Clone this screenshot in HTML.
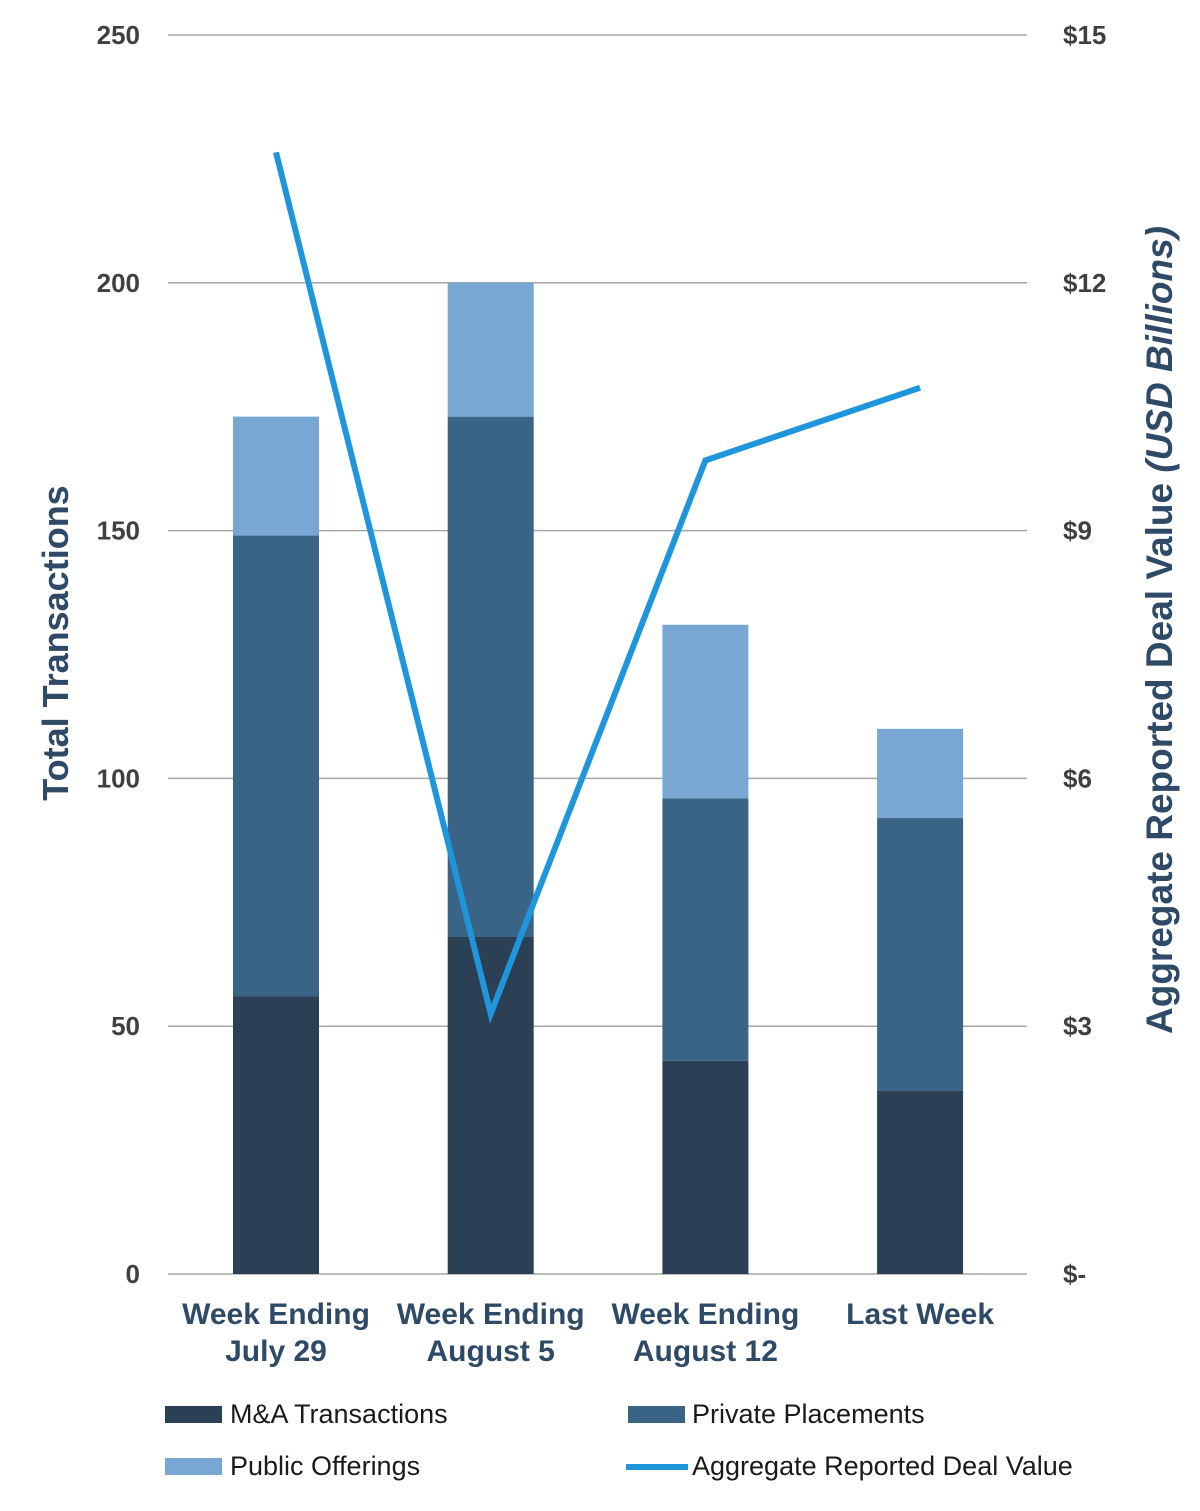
<!DOCTYPE html>
<html><head><meta charset="utf-8"><style>
html,body{margin:0;padding:0;background:#fff;}
svg{display:block;font-family:"Liberation Sans",sans-serif;}
</style></head><body>
<svg id="chart" width="1200" height="1511" viewBox="0 0 1200 1511">
<g id="grid"></g>
<g id="bars"></g>
<g id="line"></g>
<g id="ticks"></g>
<text transform="translate(68,643) rotate(-90)" text-anchor="middle" font-size="36" font-weight="600" fill="#2e4a66">Total Transactions</text>
<text transform="translate(1172,630) rotate(-90)" text-anchor="middle" font-size="37" font-weight="600" fill="#2e4a66">Aggregate Reported Deal Value  <tspan font-style="italic">(USD Billions)</tspan></text>
<g font-size="27" fill="#1a1a1a">
<rect x="165" y="1406" width="57" height="17" fill="#2b3f55"/>
<text x="230" y="1423">M&amp;A Transactions</text>
<rect x="628" y="1406" width="57" height="17" fill="#3a6486"/>
<text x="692" y="1423">Private Placements</text>
<rect x="165" y="1458" width="57" height="17" fill="#78a7d3"/>
<text x="230" y="1475">Public Offerings</text>
<line x1="626" y1="1467" x2="688" y2="1467" stroke="#1f96dc" stroke-width="6"/>
<text x="692" y="1475">Aggregate Reported Deal Value</text>
</g>
</svg>
<script>
const categories = [["Week Ending","July 29"],["Week Ending","August 5"],["Week Ending","August 12"],["Last Week",""]];
const maValues = [56, 68, 43, 37];
const ppValues = [93, 105, 53, 55];
const poValues = [24, 27, 35, 18];
const dealValues = [13.58, 3.15, 9.85, 10.73];
const leftTicks = [0, 50, 100, 150, 200, 250];
const rightTickLabels = ["$-", "$3", "$6", "$9", "$12", "$15"];

const NS = "http://www.w3.org/2000/svg";
const y0 = 1274, yTop = 35, xL = 168, xR = 1027;
const yL = v => y0 - v / 250 * (y0 - yTop);
const yR = v => y0 - v / 15 * (y0 - yTop);
const xC = i => 276 + i * 214.7;
const bw = 86;
function mk(tag, attrs, parent) {
  const e = document.createElementNS(NS, tag);
  for (const k in attrs) e.setAttribute(k, attrs[k]);
  parent.appendChild(e); return e;
}
const grid = document.getElementById('grid'), ticks = document.getElementById('ticks');
leftTicks.forEach((t, i) => {
  const y = yL(t);
  const l = mk('line', {x1: xL, x2: xR, y1: y, y2: y, stroke: '#a6a6a6', 'stroke-width': 1.5}, grid);
  
  
  const a = mk('text', {x: 140, y: y + 9, 'text-anchor': 'end', 'font-size': 26, 'font-weight': 'bold', fill: '#404040'}, ticks);
  a.textContent = t;
  
  
  const b = mk('text', {x: 1063, y: y + 9, 'font-size': 26, 'font-weight': 'bold', fill: '#404040'}, ticks);
  b.textContent = rightTickLabels[i];
  
  
});
const bars = document.getElementById('bars');
categories.forEach((c, i) => {
  const x = xC(i) - bw / 2;
  let base = 0;
  [[maValues, '#2b3f55', 'bar-ma'], [ppValues, '#3a6486', 'bar-pp'], [poValues, '#78a7d3', 'bar-po']].forEach(s => {
    const v = s[0][i];
    const r = mk('rect', {x: x, y: yL(base + v), width: bw, height: yL(base) - yL(base + v), fill: s[1]}, bars);
    
    
    base += v;
  });
  const t = mk('text', {x: xC(i), y: 1324, 'text-anchor': 'middle', 'font-size': 30, 'font-weight': '600', fill: '#2e4a66'}, ticks);
  
  
  const s1 = mk('tspan', {x: xC(i)}, t); s1.textContent = c[0];
  if (c[1]) { const s2 = mk('tspan', {x: xC(i), dy: 37}, t); s2.textContent = c[1]; }
});
const pts = dealValues.map((v, i) => xC(i) + ',' + yR(v)).join(' ');
const pl = mk('polyline', {points: pts, fill: 'none', stroke: '#1f96dc', 'stroke-width': 6, 'stroke-linejoin': 'miter'}, document.getElementById('line'));


</script>
</body></html>
